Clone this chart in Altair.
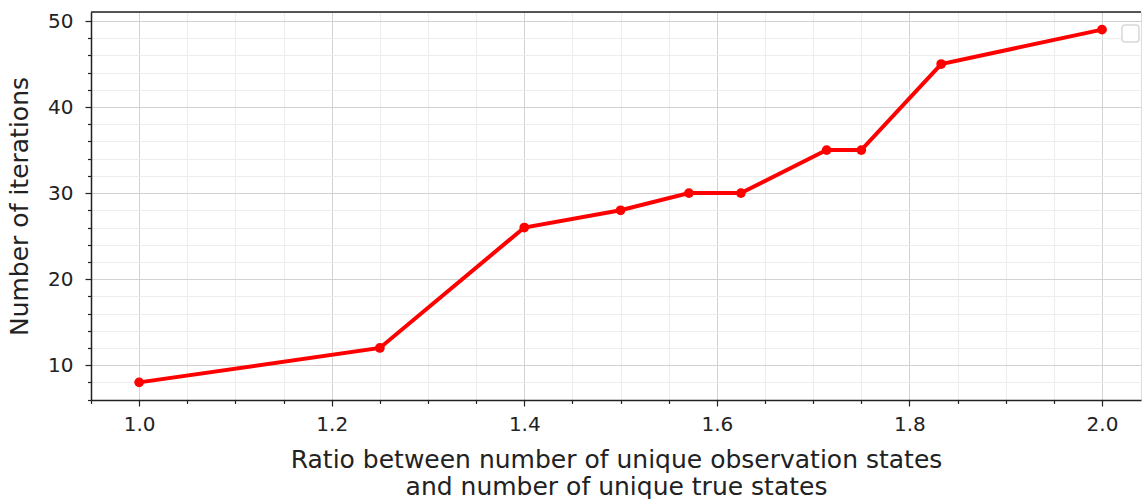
import altair as alt
import pandas as pd

# Data
ratio = [1.0, 1.25, 1.4, 1.5, 1.571, 1.625, 1.714, 1.75, 1.833, 2.0]
iterations = [8, 12, 26, 28, 30, 30, 35, 35, 45, 49]

x_ticks = [0.95, 1.0, 1.05, 1.1, 1.15, 1.2, 1.25, 1.3, 1.35, 1.4, 1.45, 1.5,
           1.55, 1.6, 1.65, 1.7, 1.75, 1.8, 1.85, 1.9, 1.95, 2.0]
y_ticks = [6, 8, 10, 12, 14, 16, 18, 20, 22, 24, 26, 28, 30, 32, 34, 36, 38,
           40, 42, 44, 46, 48, 50]

x_title = ["Ratio between number of unique observation states",
           "and number of unique true states"]
y_title = "Number of iterations"

df = pd.DataFrame({"ratio": ratio, "iterations": iterations})

FONT = "DejaVu Sans"
W, H = 1050, 388

x_major = "abs(datum.value*5 - round(datum.value*5)) < 0.001"
y_major = "datum.value % 10 === 0"

x_axis = alt.Axis(
    values=x_ticks,
    title=x_title,
    labelExpr=f"{x_major} ? format(datum.value, '.1f') : ''",
    labelOverlap=False,
    labelFlush=False,
    labelFont=FONT, labelFontSize=20, labelColor="#222", labelPadding=8,
    titleFont=FONT, titleFontSize=25, titleFontWeight="normal", titleColor="#222",
    titlePadding=13, titleLineHeight=27,
    tickSize={"condition": {"test": x_major, "value": 6}, "value": 3.5},
    tickColor="#222", tickWidth=1.2,
    domainColor="#222", domainWidth=1.5,
    grid=True,
    gridColor={"condition": {"test": x_major, "value": "#d2d2d2"}, "value": "#ededed"},
    gridWidth=1,
)

y_axis = alt.Axis(
    values=y_ticks,
    title=y_title,
    labelExpr=f"{y_major} ? format(datum.value, 'd') : ''",
    labelOverlap=False,
    labelFlush=False,
    labelFont=FONT, labelFontSize=20, labelColor="#222", labelPadding=12,
    titleFont=FONT, titleFontSize=25, titleFontWeight="normal", titleColor="#222",
    titlePadding=15,
    tickSize={"condition": {"test": y_major, "value": 6}, "value": 3.5},
    tickColor="#222", tickWidth=1.2,
    domainColor="#222", domainWidth=1.5,
    grid=True,
    gridColor={"condition": {"test": y_major, "value": "#d2d2d2"}, "value": "#ededed"},
    gridWidth=1,
)

line = alt.Chart(df).mark_line(
    color="#ff0000", strokeWidth=4, clip=True,
    point=alt.OverlayMarkDef(color="#ff0000", filled=True, size=95, opacity=1),
).encode(
    x=alt.X("ratio:Q", scale=alt.Scale(domain=[0.95, 2.0405], nice=False, zero=False), axis=x_axis),
    y=alt.Y("iterations:Q", scale=alt.Scale(domain=[5.95, 51.05], nice=False, zero=False), axis=y_axis),
)

deco = alt.Chart(pd.DataFrame({"d": [0]}))

top_spine = deco.mark_rule(color="#222", strokeWidth=1.5).encode(
    x=alt.value(0), x2=alt.value(W), y=alt.value(0)
)

legend_box = deco.mark_rect(
    fill="white", stroke="#d8d8d8", strokeWidth=1.5, cornerRadius=3
).encode(
    x=alt.value(1031), x2=alt.value(1048), y=alt.value(13), y2=alt.value(30)
)

chart = alt.layer(line, top_spine, legend_box).properties(
    width=W, height=H,
    padding={"left": 91, "top": 12, "right": 1, "bottom": 99},
    autosize=alt.AutoSizeParams(type="none"),
).configure_view(stroke=None).configure(background="white")

chart.save("out.html", embed_options={"renderer": "svg", "actions": False})
